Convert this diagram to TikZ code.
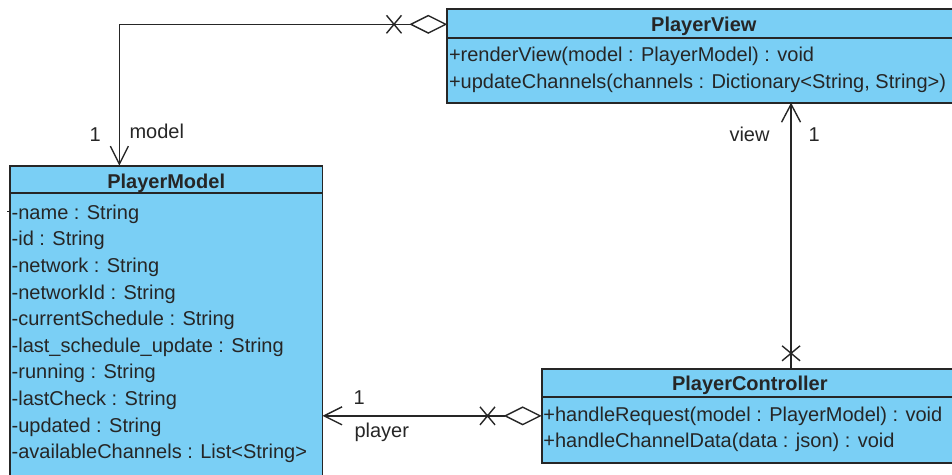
\documentclass[tikz,border=0pt]{standalone}
\usepackage{fontspec}
\setmainfont{Liberation Sans}
\usetikzlibrary{arrows.meta}
\definecolor{classfill}{RGB}{122,207,245}
\definecolor{ink}{RGB}{38,38,38}
\tikzset{
  classbox/.style={draw=ink, line width=1.8pt, fill=classfill, anchor=north west,
    inner sep=0pt, outer sep=0pt},
  divider/.style={draw=ink, line width=1.8pt},
  classtitle/.style={anchor=base, font=\fontsize{20}{24}\selectfont\bfseries,
    text=ink, inner sep=0pt},
  member/.style={anchor=base west, font=\fontsize{20}{24}\selectfont,
    text=ink, inner sep=0pt},
  rolelabel/.style={anchor=base west, font=\fontsize{20}{24}\selectfont,
    text=ink, inner sep=0pt},
  assoc/.style={draw=ink, line width=1.4pt},
  aggr/.style={{Diamond[open, length=38pt, width=19pt]}-{Straight Barb[length=18pt, width=18pt]}},
  navonly/.style={-{Straight Barb[length=18pt, width=19pt]}},
  xmark/.pic={\draw[assoc] (-7.5,-9) -- (7.5,9) (-7.5,9) -- (7.5,-9);}
}
\begin{document}
\begin{tikzpicture}[x=1pt, y=-1pt]
  \useasboundingbox (0,0) rectangle (952,474);
  \clip (0,0) rectangle (952,474);

  % ---- PlayerView ----
  \node[classbox, minimum width=513pt, minimum height=94pt] (pv) at (447.3,8.7) {};
  \draw[divider] (447.3,37.6) -- (960.3,37.6);
  \node[classtitle] (pvtitle) at (703.8,31) {PlayerView};
  \node[member] (pvm1) at (448.8,61.7) {+renderView(model : PlayerModel) : void};
  \node[member] (pvm2) at (448.8,88.3) {+updateChannels(channels : Dictionary<String, String>)};

  % ---- PlayerModel ----
  \node[classbox, minimum width=312.5pt, minimum height=320pt] (pm) at (10,165.7) {};
  \draw[divider] (10,193.3) -- (322.5,193.3);
  \node[classtitle] (pmtitle) at (166.2,188.3) {PlayerModel};
  \foreach \txt [count=\i from 0] in {%
      {-name : String},
      {-id : String},
      {-network : String},
      {-networkId : String},
      {-currentSchedule : String},
      {-last\_schedule\_update : String},
      {-running : String},
      {-lastCheck : String},
      {-updated : String},
      {-availableChannels : List<String>}}
    \node[member] (pmattr\i) at (11.5,219.3+26.6*\i) {\txt};
  % short stub on the left edge
  \draw[assoc] (7,211.7) -- (pm.west |- 0,211.7);

  % ---- PlayerController ----
  \node[classbox, minimum width=416.3pt, minimum height=93.7pt] (pc) at (541.7,369) {};
  \draw[divider] (541.7,397) -- (958,397);
  \node[classtitle] (pctitle) at (749.8,390.7) {PlayerController};
  \node[member] (pcm1) at (543.2,421.3) {+handleRequest(model : PlayerModel) : void};
  \node[member] (pcm2) at (543.2,447.3) {+handleChannelData(data : json) : void};

  % ---- associations ----
  % PlayerView -> PlayerModel (model)
  \draw[assoc, aggr] ([yshift=-15.6pt]pv.north west) -| ([xshift=-46.9pt]pm.north);
  \pic at ([xshift=-53.3pt, yshift=-15.6pt]pv.north west) {xmark};
  \node[rolelabel] (m1) at (89.3,141) {1};
  \node[rolelabel] (mrole) at (129.3,138.3) {model};

  % PlayerController -> PlayerView (view)
  \coordinate (vfoot) at ([xshift=41.2pt]pc.north);
  \draw[assoc, navonly] (vfoot) -- (vfoot |- pv.south);
  \pic[rotate=90] at ([yshift=15.7pt]vfoot) {xmark};
  \node[rolelabel] (vrole) at (729.3,141.7) {view};
  \node[rolelabel] (v1) at (808.3,141.7) {1};

  % PlayerController -> PlayerModel (player)
  \draw[assoc, aggr] (pc.west) -- (pc.west -| pm.east);
  \pic at ([xshift=-54.2pt]pc.west) {xmark};
  \node[rolelabel] (p1) at (353.3,404) {1};
  \node[rolelabel] (prole) at (354.3,437.7) {player};
\end{tikzpicture}
\end{document}
